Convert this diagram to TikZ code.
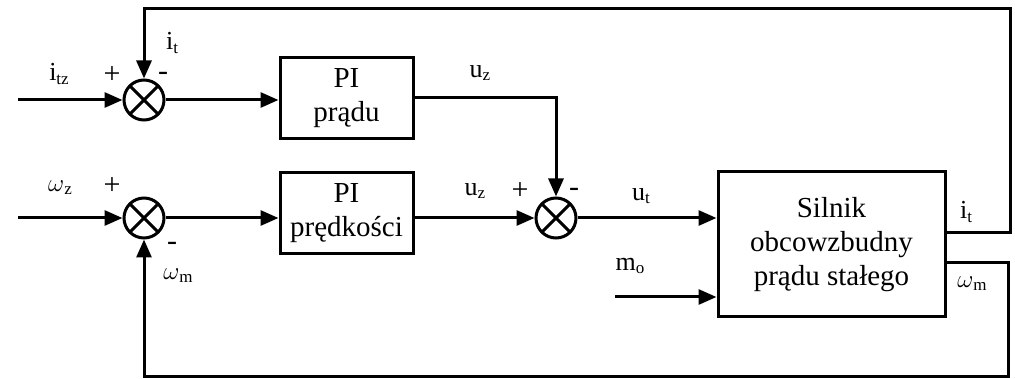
\documentclass[tikz,border=0pt]{standalone}
\usepackage{fontspec}
\setmainfont{Liberation Serif}
\usetikzlibrary{arrows.meta}
\newcommand\lsub[1]{\raisebox{-0.12em}{\fontsize{17}{17}\selectfont #1}}
\begin{document}
\begin{tikzpicture}[x=1pt,y=-1pt,line width=3pt,
  sumnode/.style={circle,draw,line width=3pt,minimum size=40pt,inner sep=0pt,
    path picture={\draw[line width=3pt] (path picture bounding box.north west)--(path picture bounding box.south east)
      (path picture bounding box.north east)--(path picture bounding box.south west);}},
  blk/.style={draw,line width=3pt,inner sep=0pt,align=center,font=\fontsize{29}{34}\selectfont},
  lbl/.style={font=\fontsize{26}{28}\selectfont,inner sep=0pt},
  sgn/.style={font=\fontsize{30}{30}\selectfont,inner sep=0pt},
  arr/.style={-{Triangle[length=18pt,width=15pt]}},
]
\useasboundingbox (0,0) rectangle (1015,379);
% summing junctions
\node[sumnode] (s1) at (144,100) {};
\node[sumnode] (s2) at (144,218) {};
\node[sumnode] (s3) at (556,218) {};
% blocks
\node[blk,minimum width=133pt,minimum height=81pt] (pi1) at (346.5,98) {PI\\prądu};
\node[blk,minimum width=133pt,minimum height=81pt] (pi2) at (346.5,213.5) {PI\\prędkości};
\node[blk,minimum width=227pt,minimum height=145pt] (mot) at (831.5,244.5) {Silnik\\obcowzbudny\\prądu stałego};
% free ends and corners
\coordinate (in1) at (18,100);
\coordinate (in2) at (18,218);
\coordinate (mo) at (615,297);
\coordinate (f1) at (1010,233);
\coordinate (f2) at (1010,9);
\coordinate (g1) at (1008,263);
\coordinate (g2) at (1008,376);
% connectors
\draw[arr] (in1) -- (s1.west);
\draw[arr] (in2) -- (s2.west);
\draw[arr] (s1.east) -- (s1.east -| pi1.west);
\draw[arr] (s2.east) -- (s2.east -| pi2.west);
\draw[arr] (pi1.east) -- (pi1.east -| s3.north) -- (s3.north);
\draw[arr] (s3.west -| pi2.east) -- (s3.west);
\draw[arr] (s3.east) -- (s3.east -| mot.west);
\draw[arr] (mo) -- (mo -| mot.west);
\draw[arr] (f1 -| mot.east) -- (f1) -- (f2) -- (s1.north |- f2) -- (s1.north);
\draw[arr] (g1 -| mot.east) -- (g1) -- (g2) -- (s2.south |- g2) -- (s2.south);
% labels
\node[lbl] (l1) at (59,74) {i\lsub{tz}};
\node[sgn] (p1) at (112,75) {+};
\node[lbl] (l2) at (172,43) {i\lsub{t}};
\node[sgn] (m1) at (163,76) {-};
\node[lbl] (l3) at (480,73) {u\lsub{z}};
\node[lbl] (l4) at (475,191) {u\lsub{z}};
\node[sgn] (p3) at (520,191) {+};
\node[sgn] (m3) at (574,192) {-};
\node[lbl] (l5) at (641,196) {u\lsub{t}};
\node[lbl] (l6) at (630,266) {m\lsub{o}};
\node[lbl] (l7) at (966,212) {i\lsub{t}};
\node[lbl] (l8) at (972,284) {$\omega$\lsub{m}};
\node[lbl] (l9) at (60,188) {$\omega$\lsub{z}};
\node[sgn] (p2) at (112,186) {+};
\node[sgn] (m2) at (172,246) {-};
\node[lbl] (l10) at (178,276) {$\omega$\lsub{m}};
\end{tikzpicture}
\end{document}
